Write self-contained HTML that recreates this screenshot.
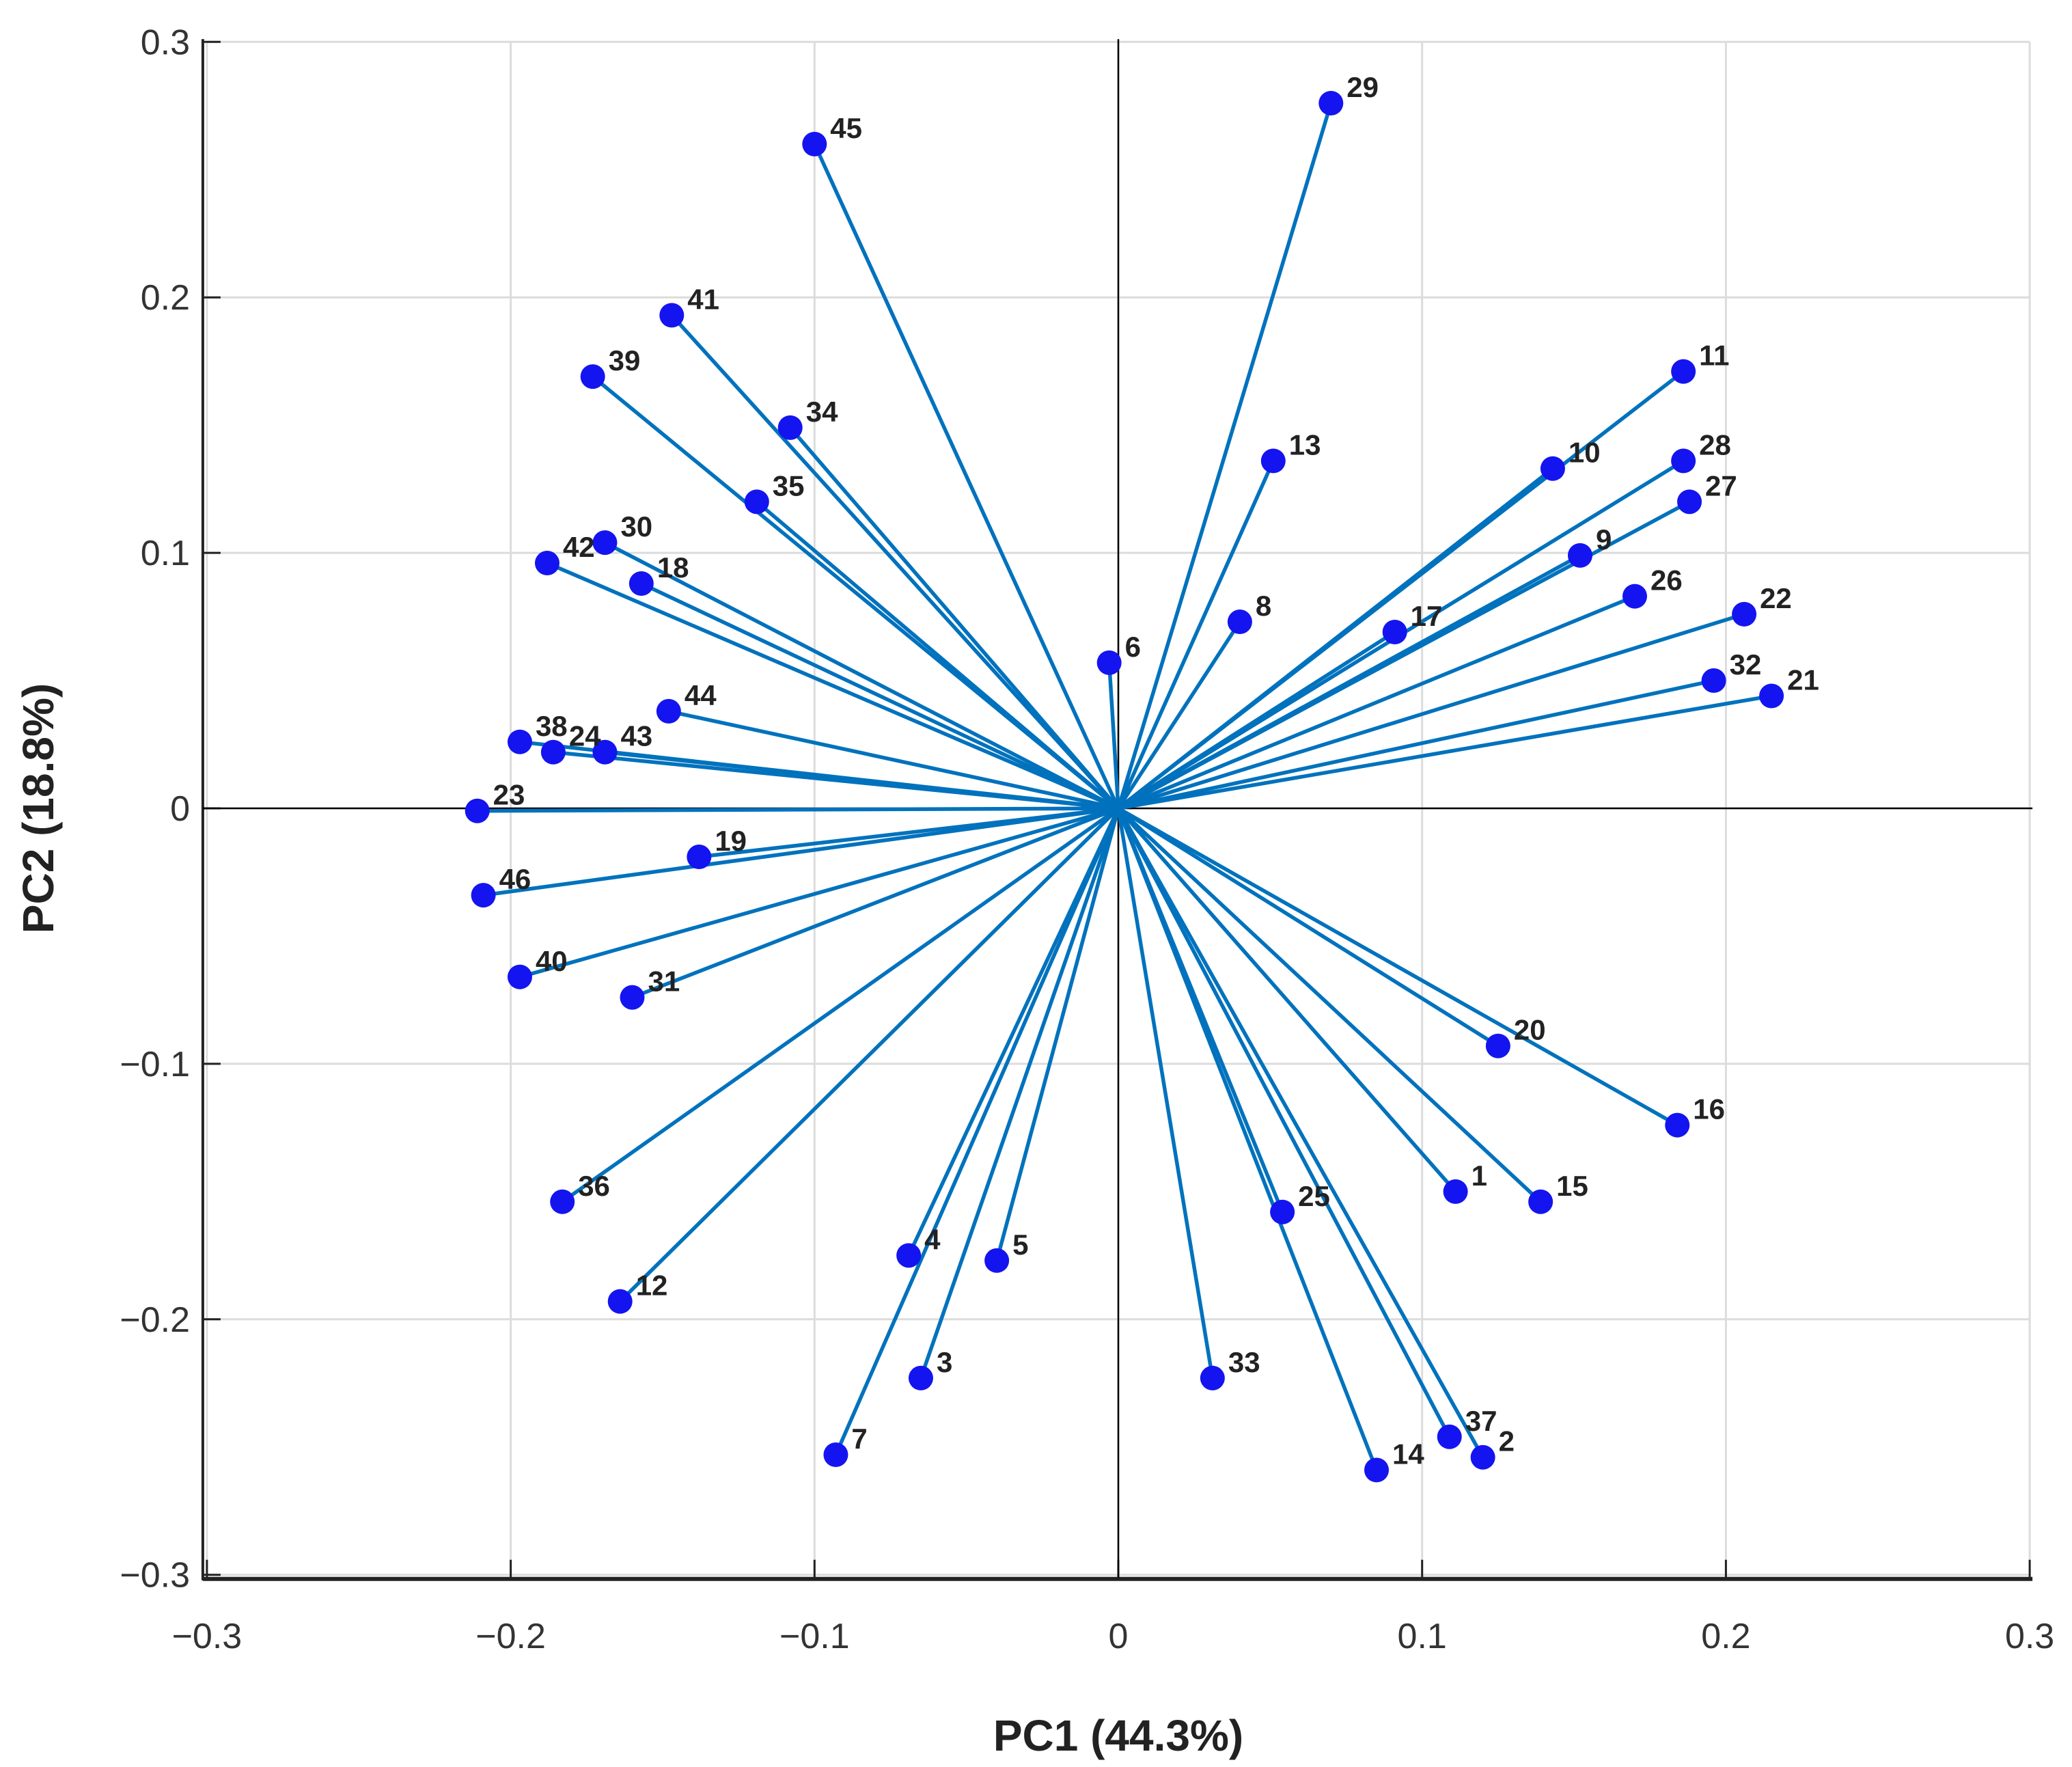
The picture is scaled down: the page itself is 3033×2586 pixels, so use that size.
<!DOCTYPE html>
<html><head><meta charset="utf-8"><style>
html,body{margin:0;padding:0;background:#fff;}
svg{display:block;font-family:"Liberation Sans",sans-serif;}
</style></head><body>
<svg id="chart" width="3033" height="2586" viewBox="0 0 3033 2586" xmlns="http://www.w3.org/2000/svg">
<g id="grid"></g>
<g id="axes"></g>
<g id="vectors"></g>
<g id="points"></g>
<g id="labels"></g>
<text x="1637" y="2562" font-size="64" font-weight="bold" text-anchor="middle" fill="#222">PC1 (44.3%)</text>
<text transform="translate(78,1183) rotate(-90)" font-size="64" font-weight="bold" text-anchor="middle" fill="#222">PC2 (18.8%)</text>
</svg>
<script>
const labels = ["1","2","3","4","5","6","7","8","9","10","11","12","13","14","15","16","17","18","19","20","21","22","23","24","25","26","27","28","29","30","31","32","33","34","35","36","37","38","39","40","41","42","43","44","45","46"];
const pc1 = [0.111,0.120,-0.065,-0.069,-0.040,-0.003,-0.093,0.040,0.152,0.143,0.186,-0.164,0.051,0.085,0.139,0.184,0.091,-0.157,-0.138,0.125,0.215,0.206,-0.211,-0.186,0.054,0.170,0.188,0.186,0.070,-0.169,-0.160,0.196,0.031,-0.108,-0.119,-0.183,0.109,-0.197,-0.173,-0.197,-0.147,-0.188,-0.169,-0.148,-0.100,-0.209];
const pc2 = [-0.150,-0.254,-0.223,-0.175,-0.177,0.057,-0.253,0.073,0.099,0.133,0.171,-0.193,0.136,-0.259,-0.154,-0.124,0.069,0.088,-0.019,-0.093,0.044,0.076,-0.001,0.022,-0.158,0.083,0.120,0.136,0.276,0.104,-0.074,0.050,-0.223,0.149,0.120,-0.154,-0.246,0.026,0.169,-0.066,0.193,0.096,0.022,0.038,0.260,-0.034];
const xTicks = [-0.3,-0.2,-0.1,0,0.1,0.2,0.3];
const yTicks = [-0.3,-0.2,-0.1,0,0.1,0.2,0.3];
const xTickLabels = ["\u22120.3","\u22120.2","\u22120.1","0","0.1","0.2","0.3"];
const yTickLabels = ["\u22120.3","\u22120.2","\u22120.1","0","0.1","0.2","0.3"];

const X0=1637, XS=4447, Y0=1183, YS=3739;
function sx(v){return X0+v*XS;}
function sy(v){return Y0-v*YS;}
const NS="http://www.w3.org/2000/svg";
function mk(tag,parent,attrs){const e=document.createElementNS(NS,tag);for(const k in attrs)e.setAttribute(k,attrs[k]);parent.appendChild(e);return e;}
const grid=document.getElementById('grid'),axes=document.getElementById('axes'),vec=document.getElementById('vectors'),pts=document.getElementById('points'),lab=document.getElementById('labels');
const xl=sx(-0.3), xr=sx(0.3), yt=sy(0.3), yb=sy(-0.3);
xTicks.forEach((t,i)=>{
  const g=mk('line',grid,{x1:sx(t),x2:sx(t),y1:yt,y2:yb+4,stroke:'#dcdcdc','stroke-width':3});
  
  
  const tk=mk('line',axes,{x1:sx(t),x2:sx(t),y1:yb+4,y2:yb-22,stroke:'#222','stroke-width':3});
  
  
  const tl=mk('text',axes,{x:sx(t),y:2412,'font-size':52,'text-anchor':'middle',fill:'#333'});
  tl.textContent=xTickLabels[i];
  
  
});
yTicks.forEach((t,i)=>{
  const g=mk('line',grid,{x1:xl,x2:xr,y1:sy(t),y2:sy(t),stroke:'#dcdcdc','stroke-width':3});
  
  
  const tk=mk('line',axes,{x1:xl-6,x2:xl+20,y1:sy(t),y2:sy(t),stroke:'#222','stroke-width':3});
  
  
  const tl=mk('text',axes,{x:278,y:sy(t)+18,'font-size':52,'text-anchor':'end',fill:'#333'});
  tl.textContent=yTickLabels[i];
  
  
});
let a=mk('line',axes,{x1:xl-6,x2:xl-6,y1:yt-4,y2:yb+8,stroke:'#222','stroke-width':4});

a=mk('line',axes,{x1:xl-6,x2:xr+4,y1:yb+6,y2:yb+6,stroke:'#222','stroke-width':6});

a=mk('line',axes,{x1:sx(0),x2:sx(0),y1:yt-4,y2:yb+4,stroke:'#000','stroke-width':2.5});

a=mk('line',axes,{x1:xl-6,x2:xr+4,y1:sy(0),y2:sy(0),stroke:'#000','stroke-width':2.5});

labels.forEach((l,i)=>{
  const ln=mk('line',vec,{x1:sx(0),y1:sy(0),x2:sx(pc1[i]),y2:sy(pc2[i]),stroke:'#0072BD','stroke-width':5.5});
  
  
});
labels.forEach((l,i)=>{
  const c=mk('circle',pts,{cx:sx(pc1[i]),cy:sy(pc2[i]),r:18,fill:'#1414f0'});
  
  
  const t=mk('text',lab,{x:sx(pc1[i])+23,y:sy(pc2[i])-9,'font-size':42,'font-weight':'bold',fill:'#222'});
  t.textContent=l;
  
  
});
</script>
</body></html>
